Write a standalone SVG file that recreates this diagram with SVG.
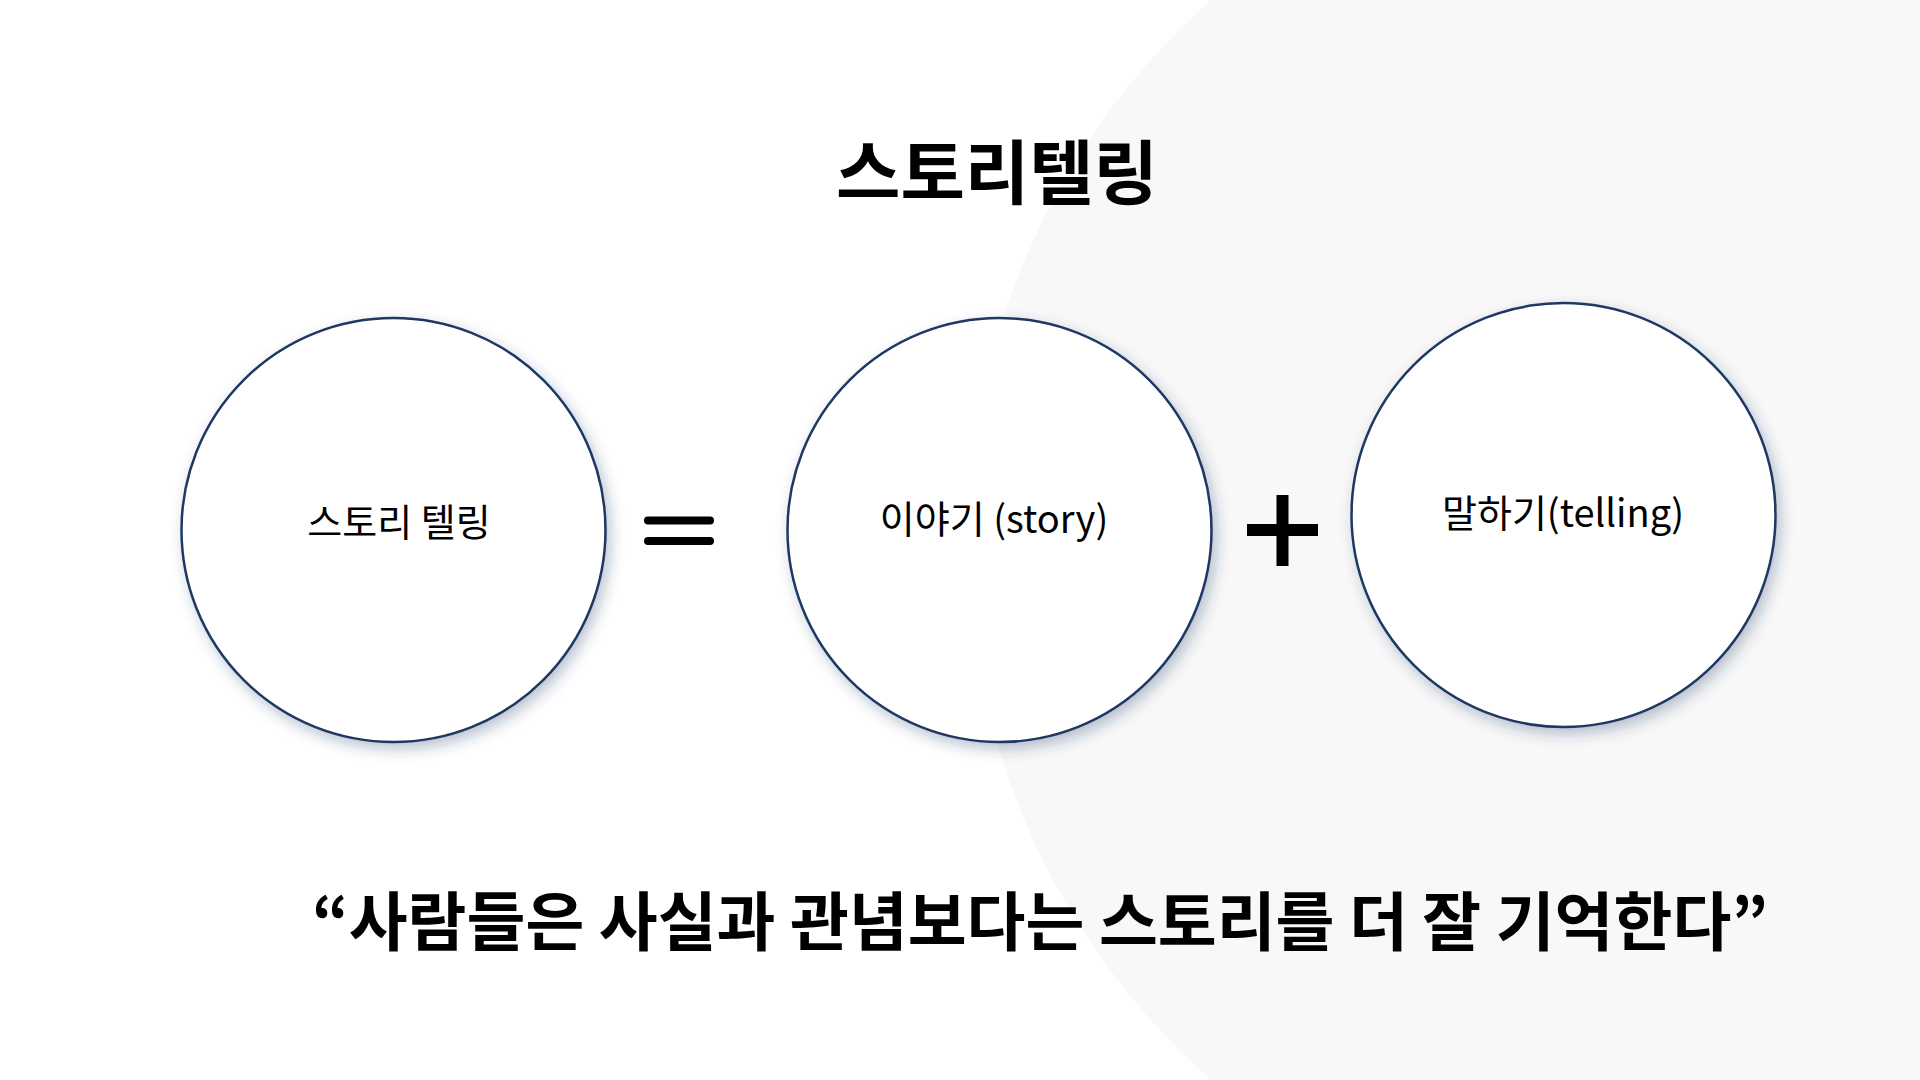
<svg xmlns="http://www.w3.org/2000/svg" width="1920" height="1080" viewBox="0 0 1920 1080">
  <style>
    .bg { fill: #ffffff; }
    .blob { fill: #f8f8f8; }
    .node { fill: #ffffff; stroke: #1f3864; stroke-width: 2.5; filter: url(#shadow); }
    .label { font-family: "Noto Sans CJK KR", "Noto Sans", sans-serif; font-size: 38px; fill: #000000; text-anchor: middle; }
    .title { font-family: "Noto Sans CJK KR", "Noto Sans", sans-serif; font-size: 70px; font-weight: bold; fill: #000000; text-anchor: middle; }
    .quote { font-family: "Noto Sans CJK KR", "Noto Sans", sans-serif; font-size: 64px; font-weight: bold; fill: #000000; text-anchor: middle; }
    .eq { stroke: #000000; stroke-width: 8; stroke-linecap: round; fill: none; }
    .plus { fill: #000000; }
  </style>
  <defs>
    <filter id="shadow" x="-20%" y="-20%" width="140%" height="140%">
      <feDropShadow dx="4" dy="6" stdDeviation="7" flood-color="#1f3864" flood-opacity="0.3"/>
    </filter>
  </defs>
  <rect class="bg" x="0" y="0" width="1920" height="1080"/>
  <circle class="blob" cx="1690" cy="540" r="722"/>

  <g id="title">
    <text class="title" x="997" y="199">스토리텔링</text>
  </g>

  <g id="node-storytelling">
    <circle class="node" cx="393.5" cy="530" r="212"/>
    <text class="label" x="399" y="536">스토리 텔링</text>
  </g>

  <g id="node-story">
    <circle class="node" cx="999.5" cy="530" r="212"/>
    <text class="label" x="994" y="533">이야기 (story)</text>
  </g>

  <g id="node-telling">
    <circle class="node" cx="1563.5" cy="515" r="212"/>
    <text class="label" x="1563" y="527">말하기(telling)</text>
  </g>

  <g id="connectors">
    <g id="equals">
      <line class="eq" x1="648" y1="520.5" x2="710" y2="520.5"/>
      <line class="eq" x1="648" y1="541" x2="710" y2="541"/>
    </g>
    <g id="plus">
      <rect class="plus" x="1276.5" y="495" width="12" height="71"/>
      <rect class="plus" x="1247" y="524" width="71" height="12"/>
    </g>
  </g>

  <g id="quote">
    <text class="quote" x="1040" y="945">“사람들은 사실과 관념보다는 스토리를 더 잘 기억한다”</text>
  </g>
</svg>
